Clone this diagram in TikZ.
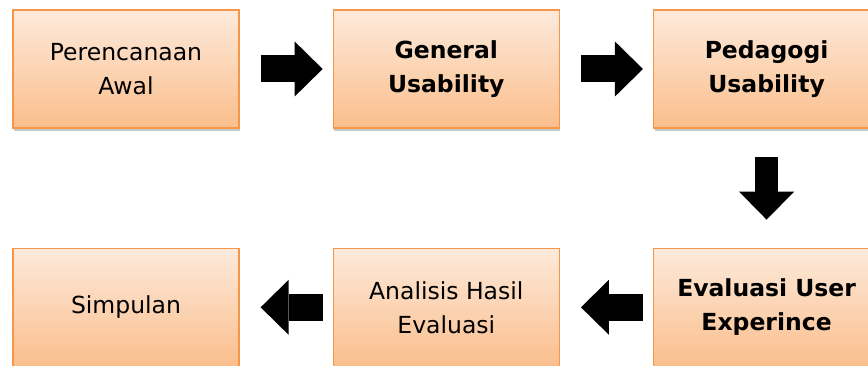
\documentclass[tikz,border=0pt]{standalone}
\usepackage{fontspec}
\setmainfont{DejaVu Sans}
\usetikzlibrary{positioning,arrows.meta,shadows}

\definecolor{boxline}{RGB}{247,150,70}
\definecolor{boxtop}{RGB}{253,234,219}
\definecolor{boxbot}{RGB}{250,190,140}

\tikzset{
  stage/.style={draw=boxline, line width=1.3pt, top color=boxtop, bottom color=boxbot,
    minimum width=226pt, minimum height=118pt, inner sep=0pt, align=center,
    font=\fontsize{23.5}{34}\selectfont,
    drop shadow={shadow xshift=1pt, shadow yshift=-2.5pt, opacity=0.3, fill=black!70}},
  fat/.style={draw=black, line width=27pt,
    -{Triangle[length=28pt,width=55pt,line width=0pt]}}
}

\begin{document}
\begin{tikzpicture}[x=1pt,y=1pt]
\path[use as bounding box, clip] (0,0) rectangle (868,365);

% top row
\node[stage] (awal) at (126,296) {Perencanaan\\Awal};
\node[stage, right=93pt of awal] (general) {\textbf{General}\\\textbf{Usability}};
\node[stage, right=93pt of general] (pedagogi) {\textbf{Pedagogi}\\\textbf{Usability}};

% bottom row
\node[stage, below=119pt of pedagogi] (ux) {\textbf{Evaluasi User}\\\textbf{Experince}};
\node[stage, left=93pt of ux] (analisis) {Analisis Hasil\\Evaluasi};
\node[stage, left=93pt of analisis] (simpulan) {Simpulan};

% block arrows
\draw[fat, shorten <=21pt, shorten >=10pt] (awal) -- (general);
\draw[fat, shorten <=21pt, shorten >=10pt] (general) -- (pedagogi);
\draw[fat, line width=23pt, shorten <=28pt, shorten >=28pt] (pedagogi) -- (ux);
\draw[fat, shorten <=10pt, shorten >=21pt] (ux) -- (analisis);
\draw[fat, shorten <=10pt, shorten >=21pt] (analisis) -- (simpulan);

\end{tikzpicture}
\end{document}
